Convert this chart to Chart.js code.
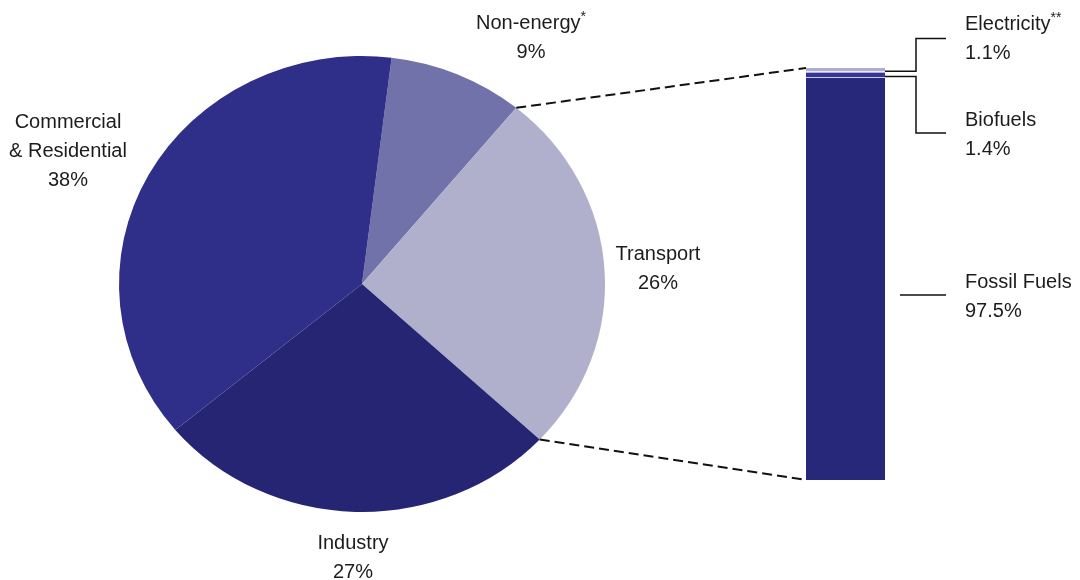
<!DOCTYPE html>
<html>
<head>
<meta charset="utf-8">
<script src="https://cdn.jsdelivr.net/npm/chart.js@4"></script>
<style>
body{margin:0;background:#fff}
#wrap{position:relative;width:1080px;height:580px}
canvas{position:absolute;left:0;top:0}
</style>
</head>
<body>
<div id="wrap">
<canvas id="pie" width="1080" height="580"></canvas>
<canvas id="bar" width="1080" height="580"></canvas>
</div>
<script>
// final energy use by sector, and the transport split by fuel
let sectors = ['Non-energy*', 'Transport', 'Industry', 'Commercial\n& Residential'];
let shares = [9, 26, 27, 38];
let sectorColors = ['#7272aa', '#b0b0cd', '#252573', '#2f2f8a'];

let fuels = ['Fossil Fuels', 'Biofuels', 'Electricity**'];
let fuelShares = [97.5, 1.4, 1.1];
let fuelColors = ['#28287a', '#34349a', '#aeaed0'];

// where the text goes
let sectorLabelPos = [[531, 23], [658, 254], [353, 543], [68, 122]];
let fuelLabelPos = [[965, 282], [965, 120], [965, 24]];

let FONT = '"Liberation Sans", Arial, sans-serif';
let LINE = 29;
// the pie is drawn a little wider than tall
let PIE_CX = 362, PIE_SX = 243 / 228;

function drawText(ctx, text, x, y, align){
  // trailing asterisks are drawn as superscript
  let m = text.match(/^(.*?)(\*+)$/);
  let main = m ? m[1] : text;
  let sup = m ? m[2] : '';
  ctx.font = '20px ' + FONT;
  let w1 = ctx.measureText(main).width;
  ctx.font = '14px ' + FONT;
  let w2 = sup ? ctx.measureText(sup).width : 0;
  let x0 = align === 'center' ? x - (w1 + w2) / 2 : x;
  ctx.textAlign = 'left';
  ctx.textBaseline = 'middle';
  ctx.fillStyle = '#1c1c1c';
  ctx.font = '20px ' + FONT;
  ctx.fillText(main, x0, y);
  if(sup){
    ctx.font = '14px ' + FONT;
    ctx.fillText(sup, x0 + w1, y - 6);
  }
}

function drawBlock(ctx, lines, x, y, align){
  lines.forEach((l, i) => drawText(ctx, l, x, y + i * LINE, align));
}

let stretchPie = {
  id: 'stretchPie',
  beforeDatasetsDraw(chart){
    let ctx = chart.ctx;
    ctx.save();
    ctx.translate(PIE_CX, 0);
    ctx.scale(PIE_SX, 1);
    ctx.translate(-PIE_CX, 0);
  },
  afterDatasetsDraw(chart){
    chart.ctx.restore();
    let ctx = chart.ctx;
    ctx.save();
    sectors.forEach((s, i) => {
      let lines = s.split('\n').concat([shares[i] + '%']);
      drawBlock(ctx, lines, sectorLabelPos[i][0], sectorLabelPos[i][1], 'center');
    });
    ctx.restore();
  }
};

let pieChart = new Chart(document.getElementById('pie'), {
  type: 'pie',
  data: {
    labels: sectors,
    datasets: [{ data: shares, backgroundColor: sectorColors, borderWidth: 0 }]
  },
  options: {
    responsive: false,
    animation: false,
    rotation: 7,
    layout: { padding: { left: 134, right: 490, top: 56, bottom: 68 } },
    plugins: { legend: { display: false }, tooltip: { enabled: false } }
  },
  plugins: [stretchPie]
});

function arcPoint(arc, angle){
  let x = arc.x + Math.cos(angle) * arc.outerRadius;
  let y = arc.y + Math.sin(angle) * arc.outerRadius;
  return [PIE_CX + (x - PIE_CX) * PIE_SX, y];
}

let barExtras = {
  id: 'barExtras',
  afterDraw(chart){
    let ctx = chart.ctx;
    let bars = fuels.map((f, i) => chart.getDatasetMeta(i).data[0]);
    let left = bars[0].x - bars[0].width / 2;
    let right = bars[0].x + bars[0].width / 2;
    let top = bars[2].y;
    let bottom = bars[0].base;

    // dashed links from the transport slice to the bar
    let arc = pieChart.getDatasetMeta(0).data[1];
    let p1 = arcPoint(arc, arc.startAngle);
    let p2 = arcPoint(arc, arc.endAngle);
    ctx.save();
    ctx.strokeStyle = '#111';
    ctx.lineWidth = 2;
    ctx.setLineDash([10, 5]);
    ctx.beginPath();
    ctx.moveTo(p1[0], p1[1]);
    ctx.lineTo(left, top);
    ctx.moveTo(p2[0], p2[1]);
    ctx.lineTo(left, bottom);
    ctx.stroke();
    ctx.setLineDash([]);

    // leader lines
    let elecY = (bars[2].y + bars[2].base) / 2 + 1;
    let bioY = (bars[1].y + bars[1].base) / 2 + 1;
    ctx.lineWidth = 1.5;
    ctx.beginPath();
    ctx.moveTo(right, elecY); ctx.lineTo(916, elecY); ctx.lineTo(916, 38.5); ctx.lineTo(946, 38.5);
    ctx.moveTo(right, bioY); ctx.lineTo(916, bioY); ctx.lineTo(916, 133); ctx.lineTo(946, 133);
    ctx.moveTo(900, 295); ctx.lineTo(946, 295);
    ctx.stroke();

    fuels.forEach((f, i) => {
      drawBlock(ctx, [f, fuelShares[i] + '%'], fuelLabelPos[i][0], fuelLabelPos[i][1], 'left');
    });
    ctx.restore();
  }
};

let barChart = new Chart(document.getElementById('bar'), {
  type: 'bar',
  data: {
    labels: ['Transport'],
    datasets: fuels.map((f, i) => ({
      label: f,
      data: [fuelShares[i]],
      backgroundColor: fuelColors[i],
      borderColor: '#fff',
      borderWidth: i === 0 ? 0 : { top: 0, left: 0, right: 0, bottom: 1.5 },
      borderSkipped: false,
      barPercentage: 1,
      categoryPercentage: 1
    }))
  },
  options: {
    responsive: false,
    animation: false,
    layout: { padding: { left: 806, right: 195, top: 68, bottom: 100 } },
    scales: {
      x: { display: false, stacked: true },
      y: { display: false, stacked: true, min: 0, max: 100 }
    },
    plugins: { legend: { display: false }, tooltip: { enabled: false } }
  },
  plugins: [barExtras]
});
</script>
</body>
</html>
